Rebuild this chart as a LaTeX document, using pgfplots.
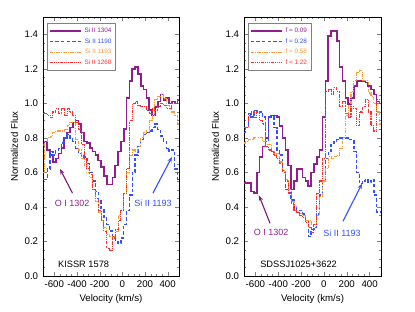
\documentclass[border=0pt]{standalone}
\usepackage{pgfplots}
\pgfplotsset{compat=1.18}
\usepackage{pgfplotstable}
\usepackage{fontspec}
\setmainfont{Liberation Sans}
\usetikzlibrary{arrows.meta}
\definecolor{cpur}{RGB}{145,30,145}
\definecolor{cblu}{RGB}{50,80,255}
\definecolor{cora}{RGB}{255,155,55}
\definecolor{cred}{RGB}{255,45,45}
\pgfplotstableread{
v p b o r
-700 0.76 0.56 0.60 0.94
-675 0.78 0.56 0.78 0.94
-650 0.73 0.62 0.80 0.93
-625 0.70 0.72 0.81 0.92
-600 0.66 0.70 0.83 0.95
-575 0.68 0.73 0.84 0.97
-550 0.71 0.74 0.84 0.94
-525 0.74 0.77 0.84 0.97
-500 0.80 0.80 0.85 0.93
-475 0.83 0.82 0.87 0.97
-450 0.86 0.80 0.89 0.95
-425 0.89 0.78 0.89 0.93
-400 0.90 0.74 0.79 0.89
-375 0.88 0.71 0.73 0.85
-350 0.83 0.70 0.68 0.76
-325 0.78 0.69 0.64 0.68
-300 0.77 0.65 0.60 0.62
-275 0.74 0.60 0.57 0.59
-250 0.72 0.55 0.50 0.50
-225 0.70 0.49 0.43 0.45
-200 0.67 0.44 0.37 0.38
-175 0.63 0.39 0.32 0.32
-150 0.58 0.34 0.28 0.26
-125 0.53 0.30 0.24 0.16
-100 0.53 0.26 0.23 0.15
-75 0.57 0.23 0.23 0.22
-50 0.64 0.20 0.26 0.27
-25 0.72 0.19 0.35 0.32
0 0.78 0.22 0.38 0.38
25 0.85 0.30 0.48 0.48
50 1.03 0.38 0.60 0.62
75 1.13 0.47 0.70 0.90
100 1.20 0.60 0.73 1.00
125 1.21 0.70 0.72 1.01
150 1.17 0.75 0.75 0.99
175 1.10 0.79 0.80 0.98
200 1.08 0.82 0.83 0.98
225 1.03 0.83 0.84 0.96
250 0.96 0.84 0.90 0.94
275 0.93 0.86 0.93 0.97
300 0.98 0.88 1.02 0.96
325 1.01 0.85 1.04 0.98
350 1.05 0.81 1.05 1.00
375 1.02 0.78 1.03 0.99
400 1.03 0.74 0.99 0.97
425 1.00 0.72 0.98 0.97
450 1.01 0.73 0.95 1.00
475 1.00 0.62 0.93 1.00
500 1.02 0.56 0.88 1.02
}\tabkissr
\pgfplotstableread{
v p b o r
-700 0.54 0.83 0.77 0.86
-675 0.54 0.86 0.78 0.86
-650 0.54 0.94 0.79 0.93
-625 0.49 0.92 0.79 0.95
-600 0.48 0.96 0.80 0.92
-575 0.60 0.96 0.80 0.95
-550 0.69 0.95 0.80 0.90
-525 0.75 0.92 0.78 0.88
-500 0.80 0.78 0.76 0.75
-475 0.92 0.92 0.76 0.73
-450 0.93 0.92 0.72 0.72
-425 0.93 0.86 0.70 0.70
-400 0.92 0.73 0.71 0.68
-375 0.87 0.70 0.66 0.65
-350 0.80 0.61 0.61 0.60
-325 0.73 0.50 0.56 0.55
-300 0.64 0.48 0.50 0.48
-275 0.50 0.44 0.43 0.42
-250 0.55 0.40 0.38 0.38
-225 0.62 0.38 0.37 0.37
-200 0.62 0.38 0.36 0.35
-175 0.57 0.36 0.35 0.34
-150 0.55 0.32 0.32 0.31
-125 0.52 0.23 0.32 0.28
-100 0.60 0.27 0.30 0.25
-75 0.65 0.28 0.30 0.30
-50 0.69 0.36 0.35 0.48
-25 0.73 0.47 0.46 0.55
0 0.92 0.55 0.55 0.68
25 1.13 0.68 0.62 1.07
50 1.39 0.72 0.69 1.08
75 1.42 0.76 0.68 1.05
100 1.42 0.78 0.69 1.09
125 1.36 0.79 0.70 1.07
150 1.21 0.80 0.74 0.98
175 1.13 0.80 0.80 1.01
200 1.03 0.80 0.93 0.94
225 0.995 0.79 0.99 0.92
250 1.03 0.79 1.07 0.98
275 1.10 0.72 1.13 0.97
300 1.13 0.60 1.18 0.87
325 1.13 0.535 1.19 0.95
350 1.13 0.55 1.13 0.98
375 1.12 0.56 1.13 1.02
400 1.10 0.54 1.06 0.95
425 1.08 0.56 1.04 0.87
450 1.05 0.47 1.00 0.84
475 1.01 0.37 0.95 1.02
500 1.00 0.37 0.88 1.00
}\tabsdss
\pgfplotsset{
  panel/.style={
    scale only axis, width=1.36in, height=2.59in,
    xmin=-700, xmax=500, ymin=0, ymax=1.5,
    xtick={-600,-400,-200,0,200,400},
    ytick={0,0.2,0.4,0.6,0.8,1.0,1.2,1.4},
    yticklabel style={/pgf/number format/.cd,fixed,fixed zerofill,precision=1},
    minor x tick num=3, minor y tick num=3,
    tick align=inside,
    major tick length=3pt, minor tick length=1.6pt,
    /pgf/number format/assume math mode=true,
    tick label style={font=\fontsize{7}{8}\selectfont},
    label style={font=\fontsize{7}{8}\selectfont},
    xlabel={Velocity (km/s)}, ylabel={Normalized Flux},
    ylabel style={yshift=-2pt},
    xlabel style={yshift=2pt},
    legend style={at={(0.03,0.975)}, anchor=north west, draw=gray, line width=0.4pt,
      font=\fontsize{4.6}{5.2}\selectfont, inner sep=1pt, row sep=-1.2pt,
      cells={anchor=east}},
    legend cell align=right,
    legend image code/.code={\draw[##1] (0cm,0cm) -- (0.8cm,0cm);},
  },
  sp/.style={const plot mark mid, color=cpur, line width=1.1pt},
  sb/.style={const plot mark mid, color=cblu, line width=1.0pt, dash pattern=on 2.6pt off 1.5pt},
  so/.style={const plot mark mid, color=cora, line width=0.8pt, dash pattern=on 2.6pt off 0.9pt on 0.6pt off 0.9pt},
  sr/.style={const plot mark mid, color=cred, line width=0.8pt, dash pattern=on 2.6pt off 0.8pt on 0.5pt off 0.8pt on 0.5pt off 0.8pt on 0.5pt off 0.8pt},
}
\begin{document}
\begin{tikzpicture}
\path[use as bounding box] (0,0) rectangle (4.15in,3.12in);
\begin{axis}[panel, at={(0.43in,0.36in)}, anchor=south west]
\addplot[sp] table[x=v,y=p] {\tabkissr};
\addlegendentry{\textcolor{cpur}{Si II 1304}}
\addplot[sb] table[x=v,y=b] {\tabkissr};
\addlegendentry{\textcolor{cblu}{Si II 1190}}
\addplot[so] table[x=v,y=o] {\tabkissr};
\addlegendentry{\textcolor{cora}{Si II 1193}}
\addplot[sr] table[x=v,y=r] {\tabkissr};
\addlegendentry{\textcolor{cred}{Si II 1260}}
\draw[-{Stealth[length=4pt,width=3pt]}, color=cpur!85!black, line width=0.8pt] (axis cs:-440,0.48) -- (axis cs:-550,0.62);
\node[text=cpur, font=\fontsize{6.5}{7}\selectfont] at (axis cs:-444,0.42) {O I 1302};
\draw[-{Stealth[length=4pt,width=3pt]}, color=cblu, line width=0.8pt] (axis cs:270,0.48) -- (axis cs:438,0.69);
\node[text=cblu, font=\fontsize{6.5}{7}\selectfont] at (axis cs:270,0.42) {Si II 1193};
\node[anchor=west, font=\fontsize{6.7}{7}\selectfont] at (axis cs:-610,0.065) {KISSR 1578};
\end{axis}
\begin{axis}[panel, width=1.37in, at={(2.44in,0.36in)}, anchor=south west]
\addplot[sp] table[x=v,y=p] {\tabsdss};
\addlegendentry{\textcolor{cpur}{f = 0.09}}
\addplot[sb] table[x=v,y=b] {\tabsdss};
\addlegendentry{\textcolor{cblu}{f = 0.28}}
\addplot[so] table[x=v,y=o] {\tabsdss};
\addlegendentry{\textcolor{cora}{f = 0.58}}
\addplot[sr] table[x=v,y=r] {\tabsdss};
\addlegendentry{\textcolor{cred}{f = 1.22}}
\draw[-{Stealth[length=4pt,width=3pt]}, color=cpur!85!black, line width=0.8pt] (axis cs:-472,0.305) -- (axis cs:-569,0.467);
\node[text=cpur, font=\fontsize{6.5}{7}\selectfont] at (axis cs:-463,0.25) {O I 1302};
\draw[-{Stealth[length=4pt,width=3pt]}, color=cblu, line width=0.8pt] (axis cs:167,0.317) -- (axis cs:334,0.535);
\node[text=cblu, font=\fontsize{6.5}{7}\selectfont] at (axis cs:158,0.25) {Si II 1193};
\node[anchor=west, font=\fontsize{6.7}{7}\selectfont] at (axis cs:-600,0.065) {SDSSJ1025+3622};
\end{axis}
\end{tikzpicture}
\end{document}
